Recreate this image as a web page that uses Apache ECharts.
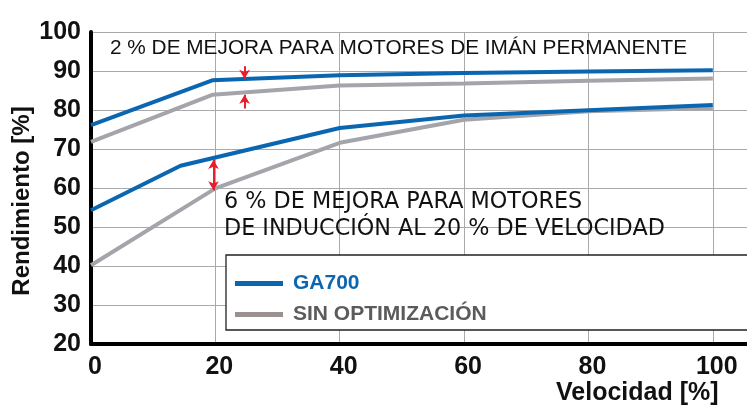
<!DOCTYPE html>
<html lang="es">
<head>
    <meta charset="UTF-8">
    <title>Rendimiento</title>
    <style>
        html, body { margin: 0; padding: 0; background: #fff; }
        #main { width: 747px; height: 409px; }
    </style>
    <script src="https://cdn.jsdelivr.net/npm/echarts@6/dist/echarts.min.js"></script>
</head>
<body>
<div id="main"></div>
<script>
    // curvas: [velocidad %, rendimiento %]
    var ga700Pm = [[0, 76.1], [19.5, 87.6], [40, 88.9], [60, 89.5], [80, 89.9], [100, 90.2]];
    var sinOptPm = [[0, 71.8], [19.5, 83.9], [40, 86.3], [60, 86.8], [80, 87.5], [100, 88.1]];
    var ga700Ind = [[0, 54.3], [14.4, 65.7], [40, 75.4], [60, 78.6], [100, 81.3]];
    var sinOptInd = [[0, 40.2], [20, 59.9], [40, 71.6], [60, 77.5], [80, 79.7], [100, 80.5]];

    // flechas rojas: [x, desde, hasta]
    var arrowPmTop = [24.7, 91.2, 88.0];
    var arrowPmBottom = [24.7, 80.4, 83.9];
    var arrowInd = [19.7, 67.2, 59.4];

    var legendNames = ['GA700', 'SIN OPTIMIZACIÓN'];
    var textPm = '2 % DE MEJORA PARA MOTORES DE IMÁN PERMANENTE';
    var textInd = ['6 % DE MEJORA PARA MOTORES', 'DE INDUCCIÓN AL 20 % DE VELOCIDAD'];

    var blue = '#0b66b2';
    var grey = '#a3a5aa';
    var red = '#ea1d2c';
    var font = '"Liberation Sans", Arial, sans-serif';

    var chart = echarts.init(document.getElementById('main'));

    function lineSeries(name, data, color) {
        return {
            name: name,
            type: 'line',
            data: data,
            symbol: 'none',
            lineStyle: { color: color, width: 4 },
            itemStyle: { color: color },
            z: 3,
            silent: true
        };
    }

    var option = {
        animation: false,
        grid: { left: 91, right: 0, top: 32, bottom: 65 },
        xAxis: {
            type: 'value',
            min: 0,
            max: 105.5,
            interval: 20,
            axisLine: { show: true, lineStyle: { color: '#000', width: 4 } },
            axisTick: { show: false },
            axisLabel: {
                showMaxLabel: false,
                margin: 11,
                fontFamily: font,
                fontWeight: 'bold',
                fontSize: 25,
                color: '#111',
                padding: [0, 0, 0, 8]
            },
            splitLine: { show: true, lineStyle: { color: '#aaa', width: 1 } }
        },
        yAxis: {
            type: 'value',
            min: 20,
            max: 100,
            interval: 10,
            axisLine: { show: true, lineStyle: { color: '#000', width: 4 } },
            axisTick: { show: false },
            axisLabel: {
                margin: 10,
                fontFamily: font,
                fontWeight: 'bold',
                fontSize: 25,
                color: '#111',
                padding: [0, 0, 5, 0]
            },
            splitLine: { show: true, lineStyle: { color: '#aaa', width: 1 } }
        },
        legend: {
            orient: 'vertical',
            left: 230,
            top: 268,
            itemWidth: 48,
            itemHeight: 5,
            itemGap: 10,
            icon: 'rect',
            z: 20,
            data: [
                { name: legendNames[0], itemStyle: { color: blue }, textStyle: { color: blue } },
                { name: legendNames[1], itemStyle: { color: '#9c9191' }, textStyle: { color: '#5b5b5b' } }
            ],
            textStyle: { fontFamily: font, fontWeight: 'bold', fontSize: 21, lineHeight: 20, padding: [0, 0, 0, 5] }
        },
        graphic: [
            {
                type: 'rect',
                z: 10,
                shape: { x: 226, y: 255, width: 540, height: 75 },
                style: { fill: '#fff', stroke: '#222', lineWidth: 1.3 }
            },
            {
                type: 'text',
                z: 10,
                x: 110, y: 38,
                style: { text: textPm, font: '20.8px ' + font, fill: '#111' }
            },
            {
                type: 'text',
                z: 10,
                x: 224, y: 189,
                style: { text: textInd.join('\n'), font: '22.3px "DejaVu Sans", sans-serif', fill: '#111', lineHeight: 27 }
            },
            {
                type: 'text',
                z: 10,
                x: 556, y: 381,
                style: { text: 'Velocidad [%]', font: 'bold 25px ' + font, fill: '#111' }
            },
            {
                type: 'text',
                z: 10,
                x: 22, y: 201,
                rotation: Math.PI / 2,
                style: {
                    text: 'Rendimiento [%]', font: 'bold 24px ' + font, fill: '#111',
                    align: 'center', verticalAlign: 'middle'
                }
            }
        ],
        series: [
            lineSeries(legendNames[1], sinOptPm, grey),
            lineSeries(legendNames[1], sinOptInd, grey),
            lineSeries(legendNames[0], ga700Pm, blue),
            lineSeries(legendNames[0], ga700Ind, blue),
            {
                type: 'line',
                data: [],
                silent: true,
                markLine: {
                    silent: true,
                    animation: false,
                    symbolSize: [8, 9],
                    label: { show: false },
                    lineStyle: { color: red, width: 2, type: 'solid' },
                    data: [
                        [
                            { coord: [arrowPmTop[0], arrowPmTop[1]], symbol: 'none' },
                            { coord: [arrowPmTop[0], arrowPmTop[2]], symbol: 'arrow' }
                        ],
                        [
                            { coord: [arrowPmBottom[0], arrowPmBottom[1]], symbol: 'none' },
                            { coord: [arrowPmBottom[0], arrowPmBottom[2]], symbol: 'arrow' }
                        ],
                        [
                            { coord: [arrowInd[0], arrowInd[1]], symbol: 'arrow' },
                            { coord: [arrowInd[0], arrowInd[2]], symbol: 'arrow' }
                        ]
                    ]
                }
            }
        ]
    };

    chart.setOption(option);
</script>
</body>
</html>
